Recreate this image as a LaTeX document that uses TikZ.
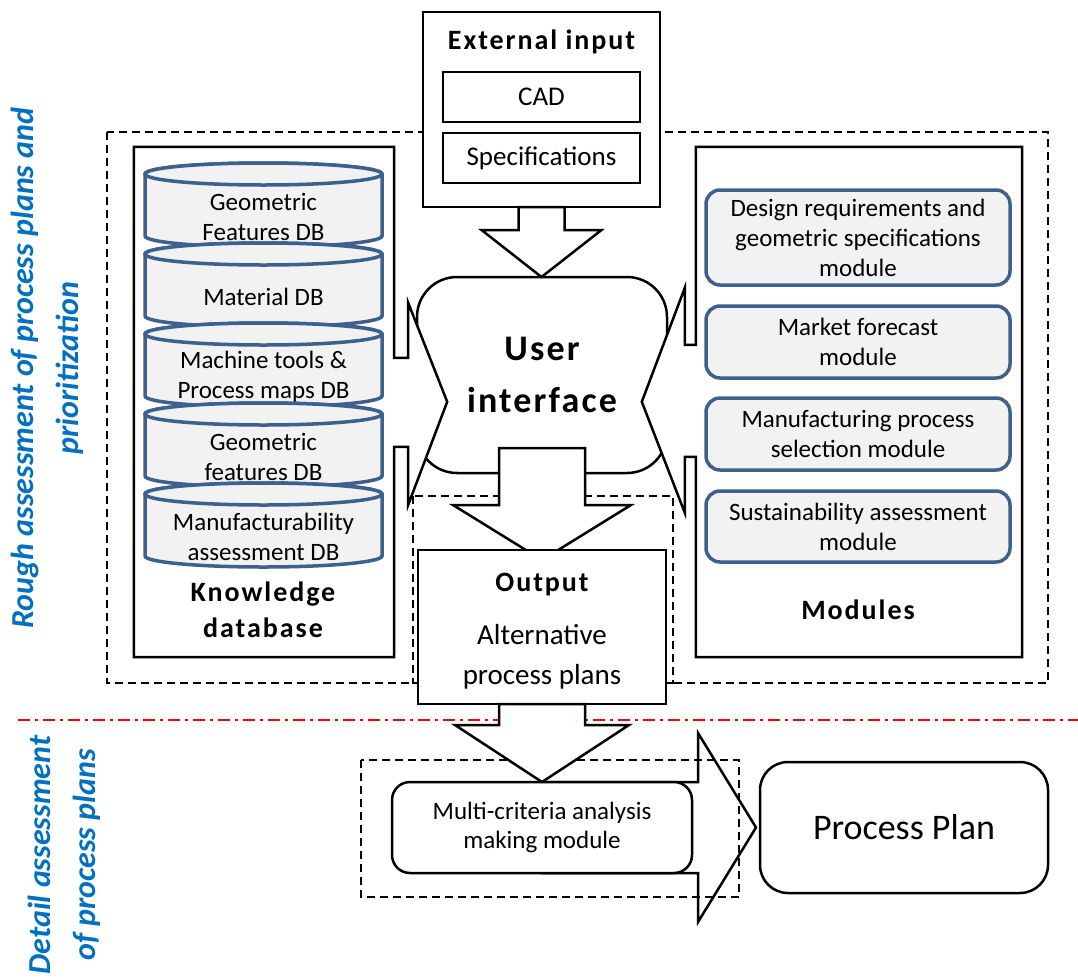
\documentclass[tikz,border=0pt]{standalone}
\usepackage{fontspec}
\setmainfont{Carlito}
\newfontfamily\headfont[LetterSpace=7]{Carlito}
\newfontfamily\uifont[LetterSpace=6]{Carlito}
\usetikzlibrary{calc,backgrounds}
\definecolor{dbblue}{RGB}{62,96,140}
\definecolor{dbfill}{RGB}{242,242,242}
\definecolor{sideblue}{RGB}{0,112,192}
\tikzset{
  boxline/.style={draw, line width=2.5pt, fill=white, outer sep=0pt},
  blockarrow/.style={draw, line width=2.5pt, fill=white, line join=miter},
  region/.style={draw, line width=1.5pt, dash pattern=on 8pt off 5pt},
  inbox/.style={draw, line width=1.2pt, minimum width=197pt, minimum height=50pt, font=\fontsize{27}{32}\selectfont},
  modbox/.style={draw=dbblue, line width=3.5pt, fill=dbfill, rounded corners=14pt, minimum width=304pt, inner sep=2pt, align=center, font=\fontsize{25}{30}\selectfont},
  dbcyl/.style={draw=dbblue, line width=3.5pt, fill=dbfill},
  dbtext/.style={align=center, font=\fontsize{25}{30}\selectfont},
  headtext/.style={align=center, font=\headfont\bfseries\fontsize{28}{36}\selectfont},
  sidelabel/.style={rotate=90, align=center, text=sideblue, font=\bfseries\itshape\fontsize{32}{45}\selectfont}
}
\begin{document}
\begin{tikzpicture}[x=1pt, y=-1pt]
\useasboundingbox (0,0) rectangle (1078,977);

\draw[region] (107,132) rectangle (1048,683);
\draw[region] (413,496) rectangle (673,683);

\node[boxline, rounded corners=40pt, minimum width=250pt, minimum height=196pt, align=center, font=\uifont\bfseries\fontsize{36}{52}\selectfont] (ui) at (542,375) {User\\interface};

\node[boxline, minimum width=237pt, minimum height=195pt] (ext) at (541.5,109.5) {};
\node[headtext] (extitle) at (541.5,42) {External input};
\node[inbox] (cad) at (541.5,97) {CAD};
\node[inbox] (spec) at (541.5,158) {Specifications};
\draw[blockarrow] ($(ext.south)+(-23,0)$) -- ++(0,23) -- ++(-37,0) -- (ext.south |- ui.north) -- ++(60,-47) -- ++(-37,0) -- ++(0,-23) -- cycle;

\node[minimum width=260pt, minimum height=510pt] (kdb) at (264,402) {};
\draw[boxline] (kdb.north west) -- (kdb.north east) -- ++(0,211) -- ++(14,0) -- ++(0,-55) -- ++(39,99) -- ++(-39,103) -- ++(0,-58) -- ++(-14,0) -- (kdb.south east) -- (kdb.south west) -- cycle;

\node[minimum width=326pt, minimum height=510pt] (mods) at (859,402) {};
\draw[boxline] (mods.north east) -- (mods.north west) -- ++(0,198) -- ++(-11,0) -- ++(0,-57) -- ++(-43,114) -- ++(43,111) -- ++(0,-56) -- ++(11,0) -- (mods.south west) -- (mods.south east) -- cycle;

\draw[blockarrow] ($(ui.south)+(-43,-25)$) -- ++(0,57) -- ++(-46,0) -- ($(ui.south)+(0,87)$) -- ++(89,-55) -- ++(-46,0) -- ++(0,-57) -- cycle;

\node[boxline, minimum width=248pt, minimum height=154pt] (out) at (542,627) {};
\node[headtext] (outtitle) at (542,585) {Output};
\node[align=center, font=\fontsize{29}{40}\selectfont] (outtext) at (542,657) {Alternative\\process plans};

\foreach \t/\txt [count=\i] in {174/{Geometric\\Features DB}, 254/{Material DB}, 334/{Machine tools \&\\Process maps DB}, 414/{Geometric\\features DB}, 494/{Manufacturability\\assessment DB}} {
  \filldraw[dbcyl] (145,\t) -- (145,\t+62) arc[start angle=180, end angle=360, x radius=118.5pt, y radius=11pt] -- (382,\t) arc[start angle=0, end angle=180, x radius=118.5pt, y radius=11pt] -- cycle;
  \draw[dbcyl] (263.5,\t) ellipse[x radius=118.5pt, y radius=11pt];
  \node[dbtext] (db\i) at (263.5,\t+43) {\txt};
}
\node[headtext] (kdbtitle) at (263,610) {Knowledge\\database};

\node[modbox, minimum height=95pt] (mod1) at (858,237.5) {Design requirements and\\geometric specifications\\module};
\node[modbox, minimum height=72pt] (mod2) at (858,342) {Market forecast\\module};
\node[modbox, minimum height=72pt] (mod3) at (858,434) {Manufacturing process\\selection module};
\node[modbox, minimum height=71pt] (mod4) at (858,526.5) {Sustainability assessment\\module};
\node[headtext] (modtitle) at (858,610) {Modules};

\draw[red, line width=2pt, dash pattern=on 12pt off 5pt on 3pt off 5pt] (18,720) -- (1078,720);

\draw[region] (361,760) rectangle (739,897);
\draw[blockarrow] ($(out.south)+(-43,0)$) -- ++(0,21) -- ++(-44,0) -- ($(out.south)+(0,78)$) -- ++(87,-57) -- ++(-44,0) -- ++(0,-21) -- cycle;
\node[boxline, rounded corners=18pt, minimum width=300pt, minimum height=91pt, align=center, font=\fontsize{25}{29}\selectfont] (mcda) at (542,827.5) {Multi-criteria analysis\\making module};
\node[boxline, rounded corners=28pt, minimum width=288pt, minimum height=131pt, font=\fontsize{36}{42}\selectfont] (plan) at (904,827.5) {Process Plan};
\begin{scope}[on background layer]
\draw[blockarrow] (mcda.north) -- ($(mcda.north east)+(6,0)$) -- ++(0,-49) -- ($(plan.west)+(-4,0)$) -- ($(mcda.south east)+(6,49)$) -- ++(0,-49) -- (mcda.south) -- cycle;
\end{scope}

\node[sidelabel] (rough) at (47,368) {Rough assessment of process plans and\\prioritization};
\node[sidelabel] (detail) at (64,855) {Detail assessment\\of process plans};

\end{tikzpicture}
\end{document}
